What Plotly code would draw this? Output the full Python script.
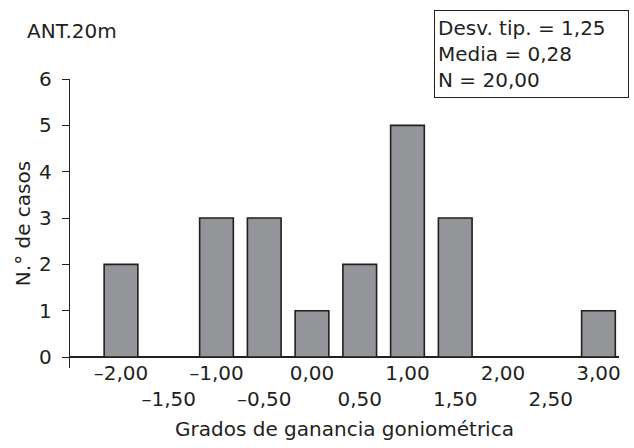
import plotly.graph_objects as go

# Data
bin_centers = [-2.0, -1.0, -0.5, 0.0, 0.5, 1.0, 1.5, 3.0]
counts = [2, 3, 3, 1, 2, 5, 3, 1]
xtick_vals = [-2.0, -1.5, -1.0, -0.5, 0.0, 0.5, 1.0, 1.5, 2.0, 2.5, 3.0]
xtick_text = ["\u20132,00", "<br>\u20131,50", "\u20131,00", "<br>\u20130,50", "0,00",
              "<br>0,50", "1,00", "<br>1,50", "2,00", "<br>2,50", "3,00"]
ytick_vals = [0, 1, 2, 3, 4, 5, 6]
stats_lines = ["Desv. tip. = 1,25", "Media = 0,28", "N = 20,00"]
panel_label = "ANT.20m"
x_title = "Grados de ganancia goniométrica"
y_title = "N.° de casos"

FONT = "DejaVu Sans"
INK = "#231f20"

fig = go.Figure()
fig.add_trace(go.Bar(
    x=bin_centers, y=counts, width=0.353,
    marker=dict(color="#939598", line=dict(color=INK, width=1.6)),
    hoverinfo="skip",
))

fig.update_layout(
    width=634, height=448,
    margin=dict(l=70, r=15, t=79, b=78),
    plot_bgcolor="white", paper_bgcolor="white",
    showlegend=False,
    font=dict(family=FONT, size=20, color=INK),
    title=dict(text=panel_label, x=27/634, xanchor="left", xref="container",
               y=1-31/448, yanchor="middle", yref="container",
               font=dict(family=FONT, size=20, color=INK)),
    xaxis=dict(range=[-2.534, 3.215], tickmode="array", tickvals=xtick_vals,
               ticktext=xtick_text, tickangle=0, showline=False, showgrid=False,
               zeroline=False, ticks="", ticklabelstandoff=-9,
               title=dict(text=x_title, standoff=11, font=dict(size=20))),
    yaxis=dict(range=[-0.236, 6], tickmode="array", tickvals=ytick_vals,
               showline=True, linecolor=INK, linewidth=1.3, showgrid=False,
               zeroline=True, zerolinecolor=INK, zerolinewidth=1.6,
               ticks="outside", ticklen=7, tickwidth=1.3, tickcolor=INK,
               ticklabelstandoff=6,
               title=dict(text=y_title, standoff=3, font=dict(size=20))),
    annotations=[dict(
        text="<br>".join(stats_lines), xref="paper", yref="paper",
        x=(434-70)/549, xanchor="left", y=(370-10)/291, yanchor="top",
        showarrow=False, align="left", width=187, height=80,
        bordercolor=INK, borderwidth=1, borderpad=3, bgcolor="white",
        font=dict(family=FONT, size=20, color=INK),
    )],
)

fig.write_html("out.html")
